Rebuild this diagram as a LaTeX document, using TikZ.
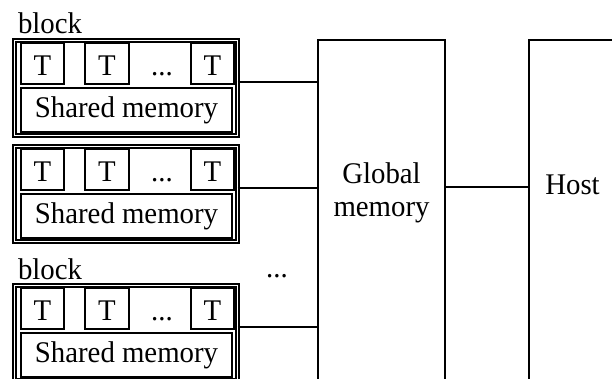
\documentclass[tikz,border=0pt]{standalone}
\usepackage{fontspec}
\setmainfont[FakeStretch=0.96]{Liberation Serif}
\usetikzlibrary{calc}
\begin{document}
\begin{tikzpicture}[x=1pt,y=-1pt,line width=1.2pt,
  every node/.style={font=\fontsize{30pt}{33pt}\selectfont, inner sep=0pt, outer sep=0pt},
  blockbox/.style={draw, double, double distance=1.8pt, minimum width=223pt, minimum height=95pt},
  tbox/.style={draw, minimum width=43pt, minimum height=41pt, text height=23pt},
  smbox/.style={draw, minimum width=211pt, minimum height=44pt},
  tallbox/.style={draw, anchor=north west, minimum height=400pt}]
\useasboundingbox (0,0) rectangle (612,378);
\clip (0,0) rectangle (612,378);
% global memory and host
\node[tallbox, minimum width=127pt] (gm) at (318,40) {};
\node[align=center] (gmt) at (381.5,193) {Global\\memory};
\node[tallbox, minimum width=90pt] (host) at (529,40) {};
\node (hostt) at (572.5,185) {Host};
\coordinate (gh) at (gm.east |- 0,187);
\draw (gh) -- (gh -| host.west);
% blocks
\foreach \i/\y in {1/39,2/145,3/284}{
  \node[blockbox] (b\i) at (126,\y+49) {};
  \node[tbox] (t\i a) at (42.5,\y+24.5) {T};
  \node[tbox, minimum width=44pt] (t\i b) at (107,\y+24.5) {T};
  \node[tbox] (t\i c) at (212.5,\y+24.5) {T};
  \node[anchor=base] (d\i) at (162,\y+36) {...};
  \node[smbox] (s\i) at (126.5,\y+71) {Shared memory};
  \coordinate (c\i) at (b\i.east |- 0,\y+43);
  \draw (c\i) -- (c\i -| gm.west);
}
\node[anchor=base west] (l1) at (18,33) {block};
\node[anchor=base west] (l3) at (18,279) {block};
\node[anchor=base] (dd) at (277,277) {...};
\end{tikzpicture}
\end{document}
